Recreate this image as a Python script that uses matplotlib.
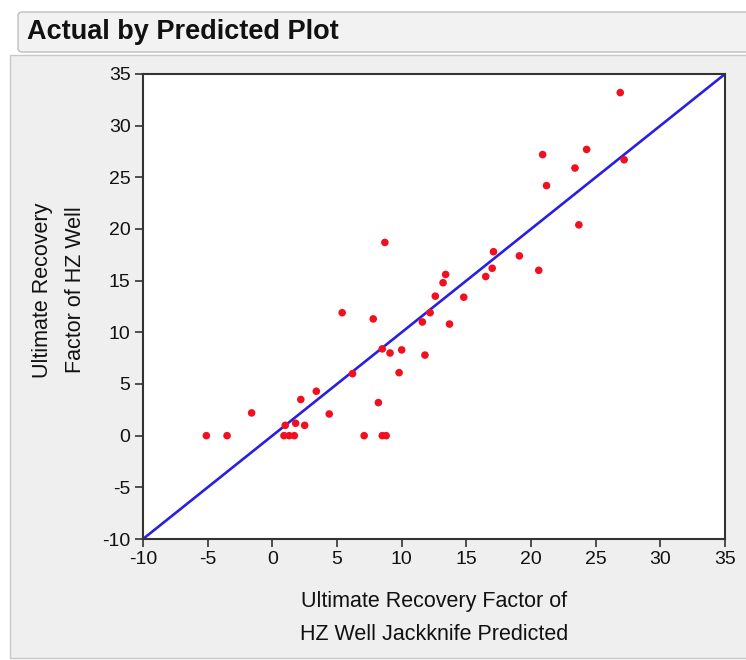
import matplotlib
matplotlib.use("Agg")
import matplotlib.pyplot as plt
from matplotlib.patches import Rectangle, FancyBboxPatch

predicted = [-5.1, -3.5, -1.6, 1.0, 0.9, 1.3, 1.7, 1.8, 2.5, 2.2, 3.4, 4.4, 6.2, 7.1,
             5.4, 7.8, 8.2, 8.5, 8.8, 8.7, 8.5, 9.1, 10.0, 9.8, 11.8, 11.6, 12.2, 12.6,
             13.2, 13.4, 13.7, 14.8, 16.5, 17.0, 17.1, 19.1, 20.6, 20.9, 21.2, 23.4,
             23.7, 24.3, 27.2, 26.9]
actual = [0.0, 0.0, 2.2, 1.0, 0.0, 0.0, 0.0, 1.2, 1.0, 3.5, 4.3, 2.1, 6.0, 0.0,
          11.9, 11.3, 3.2, 0.0, 0.0, 18.7, 8.4, 8.0, 8.3, 6.1, 7.8, 11.0, 11.9, 13.5,
          14.8, 15.6, 10.8, 13.4, 15.4, 16.2, 17.8, 17.4, 16.0, 27.2, 24.2, 25.9,
          20.4, 27.7, 26.7, 33.2]
ticks = [-10, -5, 0, 5, 10, 15, 20, 25, 30, 35]
title = "Actual by Predicted Plot"
xlabel = "Ultimate Recovery Factor of\nHZ Well Jackknife Predicted"
ylabel = "Ultimate Recovery\nFactor of HZ Well"

plt.rcParams['font.family'] = ['Liberation Sans', 'DejaVu Sans']
plt.rcParams['axes.unicode_minus'] = False

W, H = 746, 660
fig = plt.figure(figsize=(W / 100, H / 100), dpi=100)
fig.patch.set_facecolor('white')

# outer panel
r = Rectangle((10 / W, 1 - 658 / H), 740 / W, 603 / H, transform=fig.transFigure,
              facecolor='#efefef', edgecolor='#c8c8c8', linewidth=1.0, zorder=-10)
fig.patches.append(r)
# header bar
hb = FancyBboxPatch((18 / W, 1 - 52 / H), 735 / W, 40 / H, transform=fig.transFigure,
                    boxstyle="round,pad=0,rounding_size=0.006",
                    facecolor='#f2f2f2', edgecolor='#bdbdbd', linewidth=1.0, zorder=-10)
fig.patches.append(hb)
fig.text(27 / W, 1 - 32 / H, title, fontsize=19.5, fontweight='bold',
         va='center', ha='left', color='#111111')

ax = fig.add_axes([143 / W, 1 - 539 / H, 582 / W, 465 / H])
ax.set_facecolor('white')
ax.plot(ticks[::len(ticks) - 1], ticks[::len(ticks) - 1], color='#2a1fe0', linewidth=1.9, zorder=2)
ax.scatter(predicted, actual, s=30, color='#f21020', edgecolors='none', zorder=3)
ax.set_xlim(-10, 35)
ax.set_ylim(-10, 35)
ax.set_xticks(ticks)
ax.set_yticks(ticks)
for s in ax.spines.values():
    s.set_color('#333333')
    s.set_linewidth(1.5)
ax.tick_params(direction='out', length=6, width=1.2, color='#333333',
               labelsize=14, labelcolor='#111111', pad=3)

fig.text(434 / W, 1 - 618 / H, xlabel, fontsize=15.5, ha='center', va='center',
         linespacing=1.7, color='#111111')
fig.text(59 / W, 1 - 290 / H, ylabel, fontsize=15.5, ha='center', va='center',
         rotation=90, linespacing=1.75, color='#111111')

fig.savefig('out.png', dpi=100, facecolor=fig.get_facecolor())
